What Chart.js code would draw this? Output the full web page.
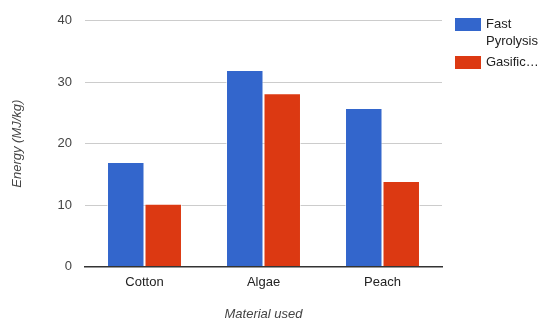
<!DOCTYPE html>
<html>
<head>
<meta charset="utf-8">
<script src="https://cdn.jsdelivr.net/npm/chart.js@4/dist/chart.umd.min.js"></script>
<style>
  html, body { margin: 0; padding: 0; background: #fff; }
  #wrap { width: 539px; height: 322px; }
</style>
</head>
<body>
<div id="wrap"><canvas id="c" width="539" height="322"></canvas></div>
<script>
// Energy yield per feedstock for two conversion processes
const materials = ['Cotton', 'Algae', 'Peach'];
const seriesNames = ['Fast Pyrolysis', 'Gasification'];
const fastPyrolysis = [17, 32, 25.8];
const gasification = [10.2, 28.2, 13.9];
const yTicks = [0, 10, 20, 30, 40];
// Legend text as shown beside the plot (wrapped / shortened)
const legendLines = [['Fast', 'Pyrolysis'], ['Gasific…']];

const colors = ['#3366cc', '#dc3912'];
const FONT = 'Arial, "Liberation Sans", sans-serif';

// Draws the legend at the right of the plot
const sideLegend = {
  id: 'sideLegend',
  afterDraw(chart) {
    const ctx = chart.ctx;
    ctx.save();
    ctx.font = '13px ' + FONT;
    ctx.textBaseline = 'middle';
    ctx.textAlign = 'left';
    const x0 = 455, boxW = 26, boxH = 13;
    let y = 18;
    chart.data.datasets.forEach((ds, i) => {
      ctx.fillStyle = ds.backgroundColor;
      ctx.fillRect(x0, y, boxW, boxH);
      ctx.fillStyle = '#222';
      legendLines[i].forEach((line, j) => {
        ctx.fillText(line, x0 + boxW + 5, y + boxH / 2 + j * 17);
      });
      y += 38;
    });
    ctx.restore();
  }
};

new Chart(document.getElementById('c'), {
  type: 'bar',
  data: {
    labels: materials,
    datasets: [
      { label: seriesNames[0], data: fastPyrolysis, backgroundColor: colors[0],
        borderColor: 'rgba(255,255,255,0.6)', borderWidth: 1 },
      { label: seriesNames[1], data: gasification, backgroundColor: colors[1],
        borderColor: 'rgba(255,255,255,0.6)', borderWidth: 1 }
    ]
  },
  options: {
    responsive: false,
    animation: false,
    devicePixelRatio: 1,
    layout: { padding: { top: 18, right: 97, left: 0, bottom: 0 } },
    datasets: { bar: { categoryPercentage: 0.63, barPercentage: 1 } },
    plugins: {
      legend: { display: false },
      tooltip: { enabled: false }
    },
    scales: {
      x: {
        grid: { display: false, drawTicks: false },
        border: { color: '#333', width: 1.5 },
        ticks: { color: '#222', font: { family: FONT, size: 13 }, padding: 8 },
        title: { display: true, text: 'Material used', color: '#444',
                 font: { family: FONT, size: 13, style: 'italic' }, padding: { top: 0, bottom: 0 } },
        afterFit(scale) { scale.height = 55.5; }
      },
      y: {
        min: 0, max: 40,
        afterBuildTicks(scale) { scale.ticks = yTicks.map(v => ({ value: v })); },
        grid: { color: ctx => ctx.tick && ctx.tick.value === 0 ? '#333' : '#ccc', drawTicks: false },
        border: { display: false },
        ticks: { color: '#444', font: { family: FONT, size: 13 }, padding: 13 },
        title: { display: true, text: 'Energy (MJ/kg)', color: '#444',
                 font: { family: FONT, size: 13, style: 'italic' }, padding: { top: 10, bottom: 0 } },
        afterFit(scale) { scale.width = 85; }
      }
    }
  },
  plugins: [sideLegend]
});
</script>
</body>
</html>
